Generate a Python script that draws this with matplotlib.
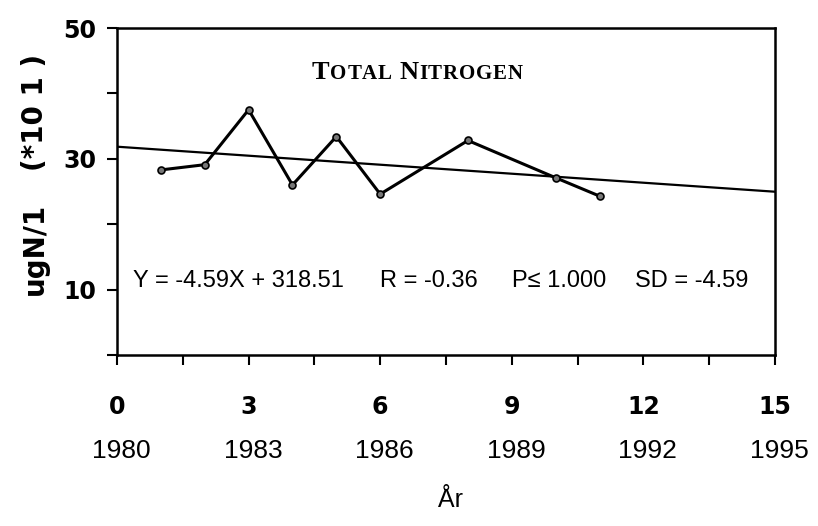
import numpy as np
import matplotlib
matplotlib.use("Agg")
import matplotlib.pyplot as plt

# measured values (ugN/l, *10^1), x = years since 1980
x_years = [1, 2, 3, 4, 5, 6, 8, 10, 11]
total_n = [28.3, 29.1, 37.5, 26.0, 33.4, 24.6, 32.8, 27.1, 24.3]

# regression from the label: Y = -4.59X + 318.51 (Y in ugN/l)
slope = -4.59
intercept = 318.51

x_tick_labels = ["0", "3", "6", "9", "12", "15"]
year_labels = ["1980", "1983", "1986", "1989", "1992", "1995"]
y_tick_labels = ["", "10", "", "30", "", "50"]

stats = ["Y = -4.59X + 318.51", "R = -0.36", "P\u2264 1.000", "SD = -4.59"]

fig = plt.figure(figsize=(8.18, 5.26), dpi=100)
ax = fig.add_axes([117 / 818, 1 - 355 / 526, 658 / 818, 327 / 526])

# regression line across the whole axis
xl = np.array([0, 15])
ax.plot(xl, (slope * xl + intercept) / 10, color="black", lw=1.6)

ax.plot(x_years, total_n, color="black", lw=2.2, marker="o", ms=5,
        mfc="#777777", mec="black", mew=1.2)

ax.set_xlim(0, 15)
ax.set_ylim(0, 50)

xt = np.arange(0, 15.1, 1.5)
ax.set_xticks(xt)
ax.set_xticklabels([x_tick_labels[i // 2] if i % 2 == 0 else "" for i in range(len(xt))])
ax.set_yticks(np.arange(0, 51, 10))
ax.set_yticklabels(y_tick_labels)

for lab in ax.get_xticklabels() + ax.get_yticklabels():
    lab.set_fontweight("bold")
    lab.set_family("DejaVu Sans")
ax.tick_params(axis="both", direction="out", length=7, width=1.5, labelsize=17)
ax.tick_params(axis="x", pad=22)
ax.tick_params(axis="y", pad=8)
for sp in ax.spines.values():
    sp.set_linewidth(1.8)

# year labels under the index numbers
for pos, lab in zip(np.arange(0, 16, 3), year_labels):
    ax.text(pos + 0.1, -0.295, lab, transform=ax.get_xaxis_transform(),
            ha="center", va="center", fontsize=19, family="Liberation Sans")

# stats line
stat_x = [0.024, 0.40, 0.60, 0.787]
for sx, s in zip(stat_x, stats):
    ax.text(sx, 0.226, s, transform=ax.transAxes, ha="left", va="center",
            fontsize=17, family="Liberation Sans")

# small caps title built from pieces
title_parts = [("T", 19), ("O", 15), ("T", 15), ("A", 15), ("L", 15), (" ", 15),
               ("N", 19), ("I", 15), ("T", 15), ("R", 15), ("O", 15), ("G", 15),
               ("E", 15), ("N", 15)]
prev = ax.text(0.296, 0.844, title_parts[0][0], transform=ax.transAxes,
               ha="left", va="baseline", fontsize=title_parts[0][1],
               family="Liberation Serif", fontweight="bold")
for ch, size in title_parts[1:]:
    prev = ax.annotate(ch, xy=(1, 0), xycoords=prev, xytext=(0.6, 0),
                       textcoords="offset points", ha="left", va="bottom",
                       fontsize=size, family="Liberation Serif", fontweight="bold")

# y axis label in two parts
fig.text(35 / 818, 1 - 249 / 526, "ugN/1", rotation=90, ha="center", va="center",
         fontsize=20, fontweight="bold", family="DejaVu Sans")
fig.text(35 / 818, 1 - 112 / 526, "(*10 1 )", rotation=90, ha="center", va="center",
         fontsize=20, fontweight="bold", family="DejaVu Sans")

fig.text(451 / 818, 1 - 500 / 526, "\u00c5r", ha="center", va="center",
         fontsize=18, family="Liberation Sans")

fig.savefig("out.png", dpi=100)
